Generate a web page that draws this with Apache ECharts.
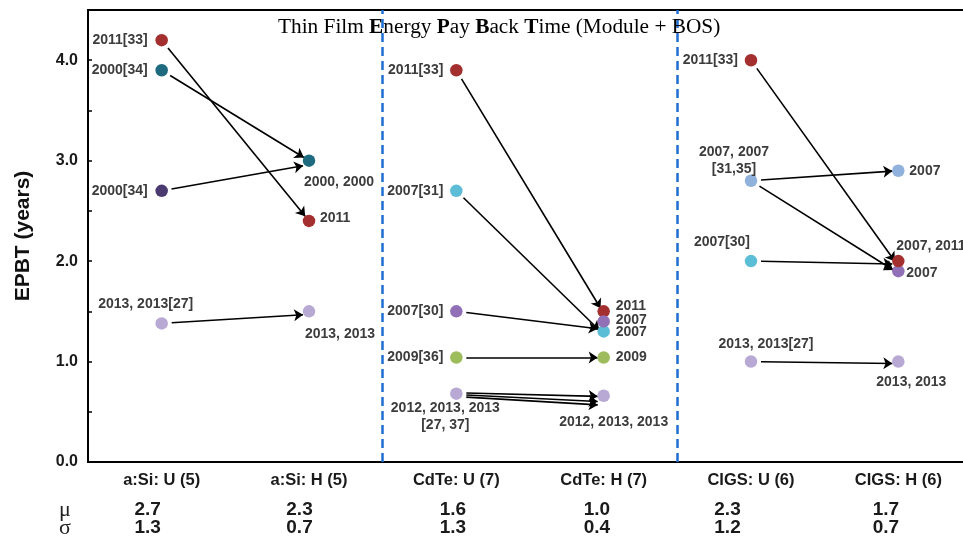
<!DOCTYPE html>
<html><head><meta charset="utf-8">
<script src="https://cdn.jsdelivr.net/npm/echarts@6/dist/echarts.min.js"></script>
<style>html,body{margin:0;padding:0;background:#fff}#c{width:963px;height:545px}</style>
</head><body><div id="c"></div>
<script>
// ---------- data ----------
const categories = ['a:Si: U (5)', 'a:Si: H (5)', 'CdTe: U (7)', 'CdTe: H (7)', 'CIGS: U (6)', 'CIGS: H (6)'];
const muValues = ['2.7', '2.3', '1.6', '1.0', '2.3', '1.7'];
const sigmaValues = ['1.3', '0.7', '1.3', '0.4', '1.2', '0.7'];
const yTickLabels = ['0.0', '1.0', '2.0', '3.0', '4.0'];
const separatorPositions = [1.5, 3.5];

const pointCategory = [0, 0, 0, 0, 1, 1, 1,
  2, 2, 2, 2, 2, 3, 3, 3, 3, 3,
  4, 4, 4, 4, 5, 5, 5, 5];
const pointValue = [4.20, 3.90, 2.70, 1.38, 3.00, 2.40, 1.50,
  3.90, 2.70, 1.50, 1.04, 0.68, 1.50, 1.30, 1.40, 1.04, 0.66,
  4.00, 2.80, 2.00, 1.00, 2.90, 1.90, 2.00, 1.00];
const pointLabel = ['2011[33]', '2000[34]', '2000[34]', '2013, 2013[27]', '2000, 2000', '2011', '2013, 2013',
  '2011[33]', '2007[31]', '2007[30]', '2009[36]', '2012, 2013, 2013\n[27, 37]', '2011', '2007', '2007', '2009', '2012, 2013, 2013',
  '2011[33]', '2007, 2007\n[31,35]', '2007[30]', '2013, 2013[27]', '2007', '2007', '2007, 2011', '2013, 2013'];
const pointGroup = ['red', 'teal', 'darkPurple', 'lavender', 'teal', 'red', 'lavender',
  'red', 'cyan', 'purple', 'green', 'lavender', 'red', 'cyan', 'purple', 'green', 'lavender',
  'red', 'lightBlue', 'cyan', 'lavender', 'lightBlue', 'purple', 'red', 'lavender'];

// arrows: from [category, value] to [category, value]
const arrowFromCategory = [0, 0, 0, 0, 2, 2, 2, 2, 2, 2, 2, 4, 4, 4, 4, 4];
const arrowFromValue = [4.20, 3.90, 2.70, 1.38, 3.90, 2.70, 1.50, 1.04, 0.69, 0.672, 0.652, 4.00, 2.80, 2.80, 2.00, 1.00];
const arrowToCategory = [1, 1, 1, 1, 3, 3, 3, 3, 3, 3, 3, 5, 5, 5, 5, 5];
const arrowToValue = [2.40, 3.00, 2.96, 1.47, 1.48, 1.27, 1.32, 1.04, 0.652, 0.60, 0.565, 1.95, 2.90, 1.88, 1.97, 0.98];

// ---------- styles / layout ----------
const colors = {
  red: '#a3302e', teal: '#1e6b80', darkPurple: '#4a3a6f', lavender: '#b8a8d4',
  cyan: '#5cbdd6', purple: '#9270b7', green: '#9dbc5b', lightBlue: '#8fb1dc'
};
// label placement per point: [dx, dy, align]
const labelLayout = [
  [-14, 0, 'right'], [-14, 0, 'right'], [-14, 0, 'right'], [-16, -19, 'center'], [30, 21, 'center'], [11, -3, 'left'], [31, 23, 'center'],
  [-13, 0, 'right'], [-13, 0, 'right'], [-13, 0, 'right'], [-13, 0, 'right'], [-11, 23, 'center'], [12, -5, 'left'], [12, 1, 'left'], [12, -1, 'left'], [12, 0, 'left'], [10, 26, 'center'],
  [-13, 0, 'right'], [-17, -20, 'center'], [-29, -19, 'center'], [15, -17, 'center'], [11, 0, 'left'], [8, 1.5, 'left'], [-2, -14.5, 'left'], [13, 21, 'center']
];
// horizontal shift of the mu / sigma table values relative to the category centre (px)
const statShift = [-14, -9.5, -3.5, -6.7, -23.5, -12.5];

const GRID = { left: 88, top: 10, width: 884, height: 452 };
const X_MIN = -0.5, X_MAX = 5.5, Y_MIN = 0, Y_MAX = 4.5;
const pxX = GRID.width / (X_MAX - X_MIN), pxY = GRID.height / (Y_MAX - Y_MIN);
const START_GAP = 10, END_GAP = 6;

const labelFont = { fontFamily: 'Liberation Sans, Arial', fontWeight: 'bold', fontSize: 14, color: '#3c3c3c', lineHeight: 17 };
const statFont = { fontFamily: 'Liberation Sans, Arial', fontWeight: 'bold', fontSize: 19, color: '#1a1a1a' };

const scatterData = pointValue.map((v, i) => ({
  value: [pointCategory[i], v],
  name: pointLabel[i],
  itemStyle: { color: colors[pointGroup[i]], opacity: 1 },
  label: {
    show: true, position: 'inside', align: labelLayout[i][2], verticalAlign: 'middle',
    offset: [labelLayout[i][0], labelLayout[i][1]], formatter: '{b}', ...labelFont
  }
}));

const arrowData = arrowFromValue.map((v, i) => {
  const x1 = arrowFromCategory[i], y1 = v, x2 = arrowToCategory[i], y2 = arrowToValue[i];
  const dxp = (x2 - x1) * pxX, dyp = (y2 - y1) * pxY;
  const len = Math.sqrt(dxp * dxp + dyp * dyp);
  const s = START_GAP / len, e = END_GAP / len;
  return {
    coords: [
      [x1 + (x2 - x1) * s, y1 + (y2 - y1) * s],
      [x2 - (x2 - x1) * e, y2 - (y2 - y1) * e]
    ]
  };
});

const statRich = {};
statShift.forEach((s, i) => {
  statRich['o' + i] = Object.assign({ padding: [0, s < 0 ? -2 * s : 0, 0, s > 0 ? 2 * s : 0] }, statFont);
});
const statFormatter = (value, index) => '{o' + index + '|' + value + '}';

const chart = echarts.init(document.getElementById('c'), null, { renderer: 'canvas' });
chart.setOption({
  animation: false,
  backgroundColor: '#fff',
  grid: { left: GRID.left, top: GRID.top, width: GRID.width, height: GRID.height, show: true, borderColor: '#000', borderWidth: 2, containLabel: false, outerBoundsMode: 'none' },
  graphic: [
    {
      type: 'text', x: 278, y: 27, z: 50,
      style: {
        text: '{n|Thin Film }{b|E}{n|nergy }{b|P}{n|ay }{b|B}{n|ack }{b|T}{n|ime (Module + BOS)}',
        verticalAlign: 'middle', align: 'left',
        rich: {
          n: { fontFamily: 'Liberation Serif, Times New Roman', fontSize: 21.3, color: '#111' },
          b: { fontFamily: 'Liberation Serif, Times New Roman', fontSize: 21.3, fontWeight: 'bold', color: '#111' }
        }
      }
    },
    { type: 'text', x: 65, y: 510, style: { text: 'μ', align: 'center', verticalAlign: 'middle', fontFamily: 'Liberation Serif', fontSize: 22, fill: '#222' } },
    { type: 'text', x: 65, y: 528, style: { text: 'σ', align: 'center', verticalAlign: 'middle', fontFamily: 'Liberation Serif', fontSize: 22, fill: '#222' } }
  ],
  xAxis: [
    { type: 'value', min: X_MIN, max: X_MAX, show: false },
    {
      type: 'category', data: categories, position: 'bottom', boundaryGap: true,
      axisLine: { onZero: false, lineStyle: { color: '#000', width: 2 } },
      axisTick: { inside: true, length: 4, lineStyle: { color: '#000', width: 1.5 } },
      axisLabel: { margin: 10, fontFamily: 'Liberation Sans, Arial', fontWeight: 'bold', fontSize: 16.5, color: '#1a1a1a' },
      splitLine: { show: false }
    },
    {
      type: 'category', data: muValues, position: 'bottom',
      axisLine: { show: false, onZero: false }, axisTick: { show: false }, splitLine: { show: false },
      axisLabel: Object.assign({ margin: 38, formatter: statFormatter, rich: statRich }, statFont)
    },
    {
      type: 'category', data: sigmaValues, position: 'bottom',
      axisLine: { show: false, onZero: false }, axisTick: { show: false }, splitLine: { show: false },
      axisLabel: Object.assign({ margin: 56, formatter: statFormatter, rich: statRich }, statFont)
    }
  ],
  yAxis: {
    type: 'value', min: Y_MIN, max: Y_MAX, interval: 0.5,
    name: 'EPBT (years)', nameLocation: 'middle', nameGap: 54,
    nameTextStyle: { fontFamily: 'Liberation Sans, Arial', fontWeight: 'bold', fontSize: 21, color: '#111' },
    axisLine: { show: true, onZero: false, lineStyle: { color: '#000', width: 2 } },
    axisTick: { show: true, inside: true, length: 4, lineStyle: { color: '#000', width: 1.5 } },
    axisLabel: {
      margin: 10, fontFamily: 'Liberation Sans, Arial', fontWeight: 'bold', fontSize: 16, color: '#1a1a1a',
      formatter: v => (Number.isInteger(v) ? yTickLabels[v] : '')
    },
    splitLine: { show: false }
  },
  series: [
    {
      type: 'lines', coordinateSystem: 'cartesian2d', xAxisIndex: 0, yAxisIndex: 0, z: 2,
      symbol: ['none', 'arrow'], symbolSize: 9,
      lineStyle: { color: '#000', width: 1.6, opacity: 1, curveness: 0 },
      data: arrowData,
      markLine: {
        silent: true, symbol: 'none', label: { show: false },
        lineStyle: { color: '#1f6fd1', width: 2.5, type: [9, 5] },
        data: separatorPositions.map(p => ({ xAxis: p }))
      }
    },
    {
      type: 'scatter', xAxisIndex: 0, yAxisIndex: 0, z: 3,
      symbol: 'circle', symbolSize: 12.5,
      itemStyle: { opacity: 1 },
      data: scatterData
    }
  ]
});
</script></body></html>
